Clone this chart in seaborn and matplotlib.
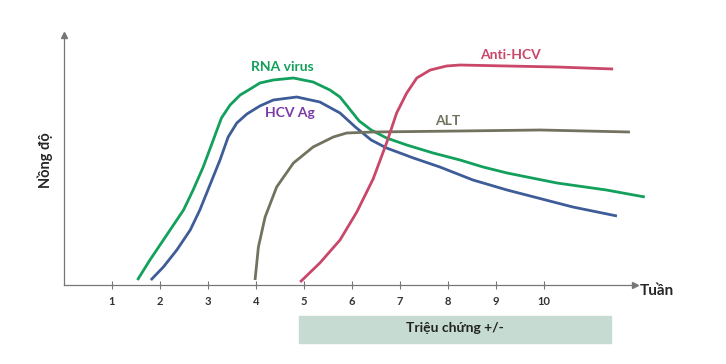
import matplotlib
matplotlib.use('Agg')
import matplotlib.pyplot as plt
import pandas as pd
import seaborn as sns

# Curves (x = week, y = relative concentration)
rna_x = [1.53, 1.79, 2.07, 2.28, 2.49, 2.69, 2.9, 3.11, 3.28, 3.46, 3.67, 3.88, 4.08, 4.36, 4.78,
         5.19, 5.54, 5.75, 5.95, 6.15, 6.4, 6.72, 7.14, 7.69, 8.25, 8.73, 9.23, 10.27, 11.3, 12.1]
rna_y = [5, 25, 45, 60, 75, 95, 118, 145, 167, 180, 190, 196, 202, 205, 207,
         203, 195, 188, 176, 164, 155, 147, 140, 132, 125, 118, 112, 102, 95, 88]

ag_x = [1.81, 2.07, 2.35, 2.63, 2.83, 3.04, 3.25, 3.42, 3.6, 3.81, 4.08, 4.36, 4.85, 5.33, 5.75,
        6.07, 6.4, 6.72, 7.28, 7.83, 8.52, 9.23, 10.6, 11.52]
ag_y = [5, 18, 35, 55, 75, 100, 125, 148, 162, 171, 179, 185, 188, 183, 172,
        158, 145, 137, 127, 118, 105, 95, 78, 69]

alt_x = [3.98, 4.05, 4.19, 4.43, 4.78, 5.19, 5.61, 5.89, 6.44, 8.25, 9.92, 11.79]
alt_y = [5, 38, 68, 98, 122, 138, 148, 152, 153, 154, 155, 153]

anti_x = [4.92, 5.33, 5.75, 6.1, 6.44, 6.72, 6.93, 7.14, 7.35, 7.63, 7.97, 8.25, 9.23, 10.27, 11.44]
anti_y = [3, 22, 45, 73, 106, 142, 172, 192, 207, 215, 219, 220, 219, 218, 216]

weeks = [1, 2, 3, 4, 5, 6, 7, 8, 9, 10]
symptom_span = (4.9, 11.4)

colors = {'RNA virus': '#12a05c', 'HCV Ag': '#3d5c98', 'ALT': '#72725f', 'Anti-HCV': '#c94769'}

frames = []
for name, xs, ys in [('RNA virus', rna_x, rna_y), ('HCV Ag', ag_x, ag_y),
                     ('ALT', alt_x, alt_y), ('Anti-HCV', anti_x, anti_y)]:
    frames.append(pd.DataFrame({'week': xs, 'level': ys, 'marker': name}))
df = pd.concat(frames, ignore_index=True)

sns.set_style('white')
plt.rcParams['font.family'] = ['Lato', 'DejaVu Sans']

fig = plt.figure(figsize=(7.26, 3.64), dpi=100)
ax = fig.add_axes([64 / 726, 79 / 364, 571 / 726, 250 / 364])

sns.lineplot(data=df, x='week', y='level', hue='marker', palette=colors,
             sort=False, estimator=None, linewidth=2.0, legend=False, ax=ax)
for line in ax.get_lines():
    line.set_clip_on(False)
    line.set_solid_capstyle('butt')
    line.set_solid_joinstyle('round')

ax.set_xlim(0, 571 / 48)
ax.set_ylim(0, 250)
sns.despine(ax=ax)
for s in ['left', 'bottom']:
    ax.spines[s].set_color('#777777')
    ax.spines[s].set_linewidth(0.9)

# arrow heads on the axes
ax.plot(1, 0, '>', color='#777777', ms=4, transform=ax.transAxes, clip_on=False)
ax.plot(0, 1, '^', color='#777777', ms=4, transform=ax.transAxes, clip_on=False)

ax.set_xticks(weeks)
ax.set_xticklabels([str(w) for w in weeks], fontsize=8, fontweight='bold', color='#333333')
ax.tick_params(axis='x', bottom=True, direction='inout', length=6, width=0.8,
               color='#777777', pad=5)
ax.set_yticks([])
ax.set_xlabel('')
ax.set_ylabel('Nồng độ', fontsize=10.5, fontweight='bold', labelpad=8)

ax.text(1.008, -0.024, 'Tuần', transform=ax.transAxes, fontsize=11, fontweight='bold',
        ha='left', va='center')

# curve labels
ax.text(4.54, 218, 'RNA virus', color='#12a05c', fontsize=10, fontweight='bold',
        ha='center', va='center')
ax.text(4.71, 172, 'HCV Ag', color='#7a3aa8', fontsize=10, fontweight='bold',
        ha='center', va='center')
ax.text(9.31, 230, 'Anti-HCV', color='#c94769', fontsize=10, fontweight='bold',
        ha='center', va='center')
ax.text(8.0, 164, 'ALT', color='#72725f', fontsize=10, fontweight='bold',
        ha='center', va='center')

# symptom band below the axis
x0, x1 = symptom_span
ax.axvspan(x0, x1, ymin=-0.232, ymax=-0.124, color='#c6dbd1', clip_on=False, zorder=0)
ax.text((x0 + x1) / 2, -43, 'Triệu chứng +/-', fontsize=10, fontweight='bold',
        color='#222222', ha='center', va='center')

fig.savefig('out.png', dpi=100)
